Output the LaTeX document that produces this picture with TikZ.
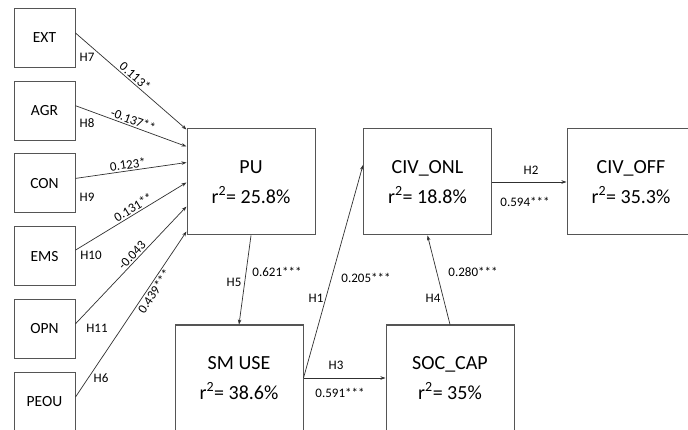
\documentclass[tikz,border=0pt]{standalone}
\usepackage{fontspec}
\setmainfont{Carlito}
\usetikzlibrary{arrows.meta,calc}
\tikzset{
  smallbox/.style={draw=boxgray, line width=1pt, minimum width=61pt, minimum height=59pt, inner sep=0pt, font=\fontsize{15.5}{18}\selectfont},
  bigbox/.style={draw=boxgray, line width=1pt, minimum width=128pt, minimum height=106pt, inner sep=0pt, align=center, font=\fontsize{20}{30}\selectfont},
  conn/.style={draw=linegray, line width=0.7pt, -{Stealth[length=5pt,width=3.5pt]}},
  lbl/.style={font=\fontsize{13}{15}\selectfont, inner sep=1.5pt, text=black}
}
\definecolor{boxgray}{HTML}{555555}
\definecolor{linegray}{HTML}{303030}
\begin{document}
\begin{tikzpicture}[x=1pt,y=-1pt]
\useasboundingbox (0,0) rectangle (688,430);
\fill[white] (0,0) rectangle (688,430);
% left column
\node[smallbox] (EXT)  at (44.5,38)    {EXT};
\node[smallbox] (AGR)  at (44.5,110.7) {AGR};
\node[smallbox] (CON)  at (44.5,183.4) {CON};
\node[smallbox] (EMS)  at (44.5,256.1) {EMS};
\node[smallbox] (OPN)  at (44.5,328.8) {OPN};
\node[smallbox] (PEOU) at (44.5,401.5) {PEOU};
% big boxes
\node[bigbox] (PU)     at (251,182)   {PU\\r\textsuperscript{2}= 25.8\%};
\node[bigbox] (CIVONL) at (427.5,182) {CIV\_ONL\\r\textsuperscript{2}= 18.8\%};
\node[bigbox] (CIVOFF) at (631,182)   {CIV\_OFF\\r\textsuperscript{2}= 35.3\%};
\node[bigbox] (SMUSE)  at (239,378)   {SM USE\\r\textsuperscript{2}= 38.6\%};
\node[bigbox] (SOCCAP) at (450,378)   {SOC\_CAP\\r\textsuperscript{2}= 35\%};
% left arrows
\draw[conn] ($(EXT.east)+(0,-5)$)  -- node[lbl,pos=0.5,sloped,above] {0.113*} ($(PU.north west)+(0,1)$);
\draw[conn] ($(AGR.east)+(0,-5)$)  -- node[lbl,pos=0.5,sloped,above] {-0.137**} ($(PU.north west)+(0,18)$);
\draw[conn] ($(CON.east)+(0,-5)$)  -- node[lbl,pos=0.48,sloped,above] {0.123*} ($(PU.north west)+(0,34)$);
\draw[conn] ($(EMS.east)+(0,-6)$)  -- node[lbl,pos=0.55,sloped,above] {0.131**} ($(PU.north west)+(0,54)$);
\draw[conn] ($(OPN.east)+(0,-5)$)  -- node[lbl,pos=0.55,sloped,above] {-0.043} ($(PU.north west)+(0,78)$);
\draw[conn] ($(PEOU.east)+(0,-4.5)$) -- node[lbl,pos=0.66,sloped,below] {0.439***} ($(PU.north west)+(0,103)$);
\node[lbl] (h7)  at (87,57)   {H7};
\node[lbl] (h8)  at (87,123)  {H8};
\node[lbl] (h9)  at (87,197)  {H9};
\node[lbl] (h10) at (91,255)  {H10};
\node[lbl] (h11) at (97,328)  {H11};
\node[lbl] (h6)  at (101,378) {H6};
% inner arrows
\draw[conn] (PU.south) -- (SMUSE.north);
\node[lbl] (h5) at (234,282) {H5};
\node[lbl] (l5) at (277,272) {0.621***};
\draw[conn] (SMUSE.east) -- ($(CIVONL.west)+(0,-17)$);
\node[lbl] (h1) at (316,298) {H1};
\node[lbl] (l1) at (366,278) {0.205***};
\draw[conn] (SMUSE.east) -- (SOCCAP.west);
\node[lbl] (h3) at (336,365) {H3};
\node[lbl] (l3) at (340,393) {0.591***};
\draw[conn] (SOCCAP.north) -- (CIVONL.south);
\node[lbl] (h4) at (433,298) {H4};
\node[lbl] (l4) at (473,272) {0.280***};
\draw[conn] (CIVONL.east) -- (CIVOFF.west);
\node[lbl] (h2) at (531,170) {H2};
\node[lbl] (l2) at (525,202) {0.594***};
\end{tikzpicture}
\end{document}
